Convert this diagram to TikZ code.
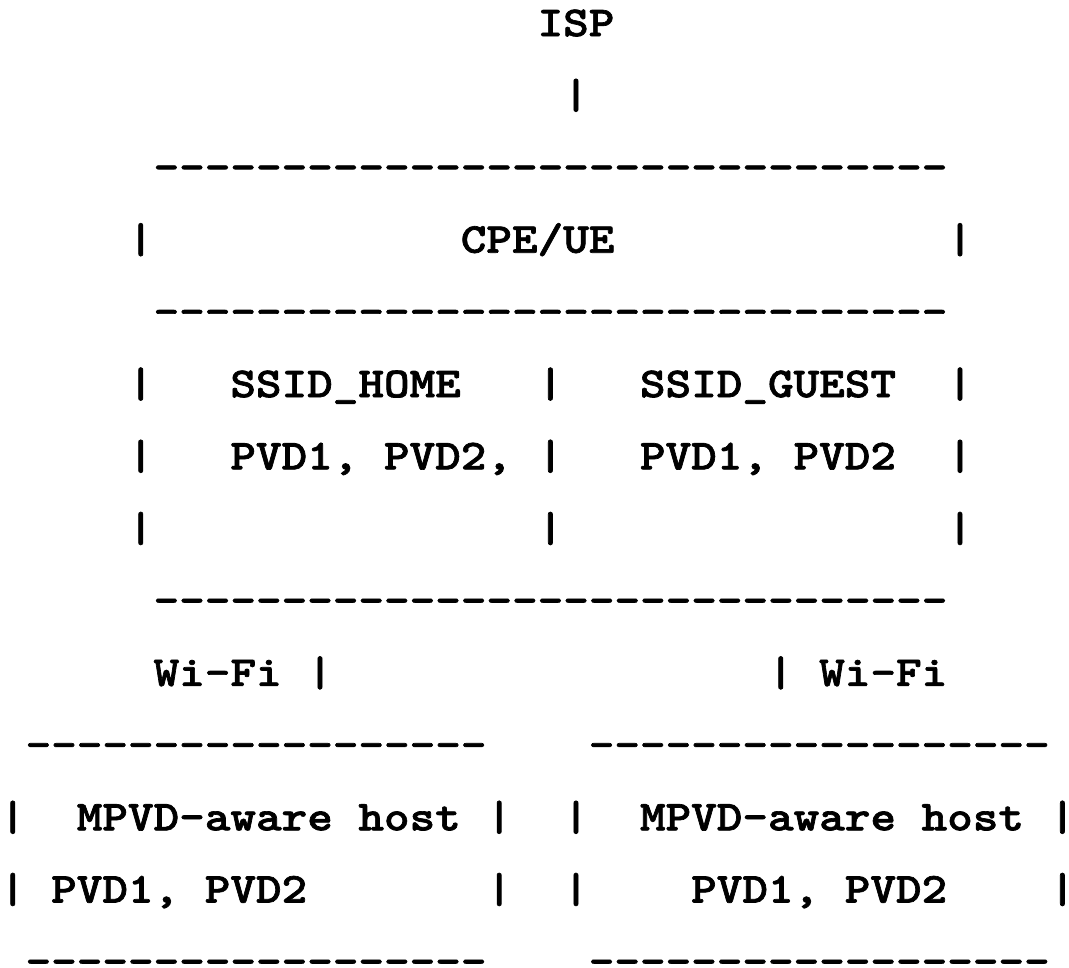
\documentclass[tikz,border=0pt]{standalone}
\usepackage{fontspec}
\newfontfamily\asciifont{lmmonolt10-bold}[Extension=.otf, FakeBold=1.6, FakeStretch=1.143]
\newcommand{\dashrun}[1]{\foreach \d in {1,...,#1}{-\kern0pt}}
\begin{document}
\begin{tikzpicture}[x=25.6pt, y=-72.2pt,
  every node/.style={anchor=base west, inner sep=0pt, outer sep=0pt,
    font=\asciifont\fontsize{42.67}{50}\selectfont}]
\useasboundingbox (0,-0.5) rectangle (41.758,12.907);

% uplink
\node (isp) at (21,0) {ISP};
\node (isplink) at (22,1) {|};

% CPE/UE box
\node (cpetop) at (6,2) {\dashrun{31}};
\node (cpel) at (5,3) {|};
\node (cpe) at (18,3) {CPE/UE};
\node (cper) at (37,3) {|};
\node (cpemid) at (6,4) {\dashrun{31}};

\node (homel) at (5,5) {|};
\node (home) at (9,5) {SSID\_HOME};
\node (ssidsep) at (21,5) {|};
\node (guest) at (25,5) {SSID\_GUEST};
\node (guestr) at (37,5) {|};

\node (homepvdl) at (5,6) {|};
\node (homepvd) at (9,6) {PVD1, PVD2,};
\node (pvdsep) at (21,6) {|};
\node (guestpvd) at (25,6) {PVD1, PVD2};
\node (guestpvdr) at (37,6) {|};

\node (emptyl) at (5,7) {|};
\node (emptysep) at (21,7) {|};
\node (emptyr) at (37,7) {|};
\node (cpebot) at (6,8) {\dashrun{31}};

% wireless links
\node (wifil) at (6,9) {Wi-Fi};
\node (wifillink) at (12,9) {|};
\node (wifirlink) at (30,9) {|};
\node (wifir) at (32,9) {Wi-Fi};

% hosts
\node (hostatop) at (1,10) {\dashrun{18}};
\node (hostbtop) at (23,10) {\dashrun{18}};

\node (hostal) at (0,11) {|};
\node (hosta) at (3,11) {MPVD-aware host};
\node (hostar) at (19,11) {|};
\node (hostbl) at (22,11) {|};
\node (hostb) at (25,11) {MPVD-aware host};
\node (hostbr) at (41,11) {|};

\node (pvdal) at (0,12) {|};
\node (pvda) at (2,12) {PVD1, PVD2};
\node (pvdar) at (19,12) {|};
\node (pvdbl) at (22,12) {|};
\node (pvdb) at (27,12) {PVD1, PVD2};
\node (pvdbr) at (41,12) {|};

\node (hostabot) at (1,13) {\dashrun{18}};
\node (hostbbot) at (23,13) {\dashrun{18}};
\end{tikzpicture}
\end{document}
